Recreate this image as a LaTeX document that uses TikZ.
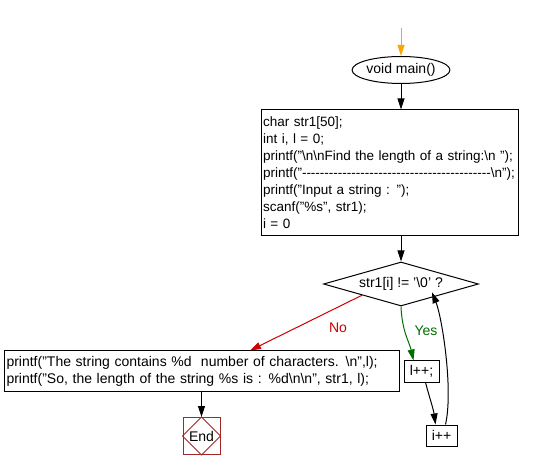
\documentclass[tikz,border=0pt]{standalone}
\usepackage{fontspec}
\setmainfont{Liberation Sans}
\usetikzlibrary{arrows.meta,shapes.geometric}

\definecolor{startorange}{RGB}{255,165,0}
\definecolor{nored}{RGB}{204,0,0}
\definecolor{yesgreen}{RGB}{0,110,0}
\definecolor{enddred}{RGB}{160,40,40}

\tikzset{
  codebox/.style={draw, rectangle, inner sep=2pt, align=left, anchor=center},
  stepbox/.style={draw, rectangle, inner sep=0pt, minimum height=21pt},
}

\begin{document}
\begin{tikzpicture}[x=1pt, y=-1pt, line width=1pt,
  font=\fontsize{14}{17}\selectfont,
  >={Triangle[length=11pt,width=7pt]}]

\useasboundingbox (0,0) rectangle (541,470);

\coordinate (top) at (401,28);
\node[draw, ellipse, minimum width=92pt, minimum height=27pt, inner sep=0pt] (main) at (401,70) {void main()};

\node[codebox, minimum width=257pt, minimum height=126pt, text width=253pt,
  font=\fontsize{13.5}{17}\selectfont] (init) at (389.5,173)
  {char str1[50];\\
   int i, l = 0;\\
   \mbox{printf("\textbackslash n\textbackslash nFind the length of a string:\textbackslash n ");}\\
   printf("{-}{-}{-}{-}{-}{-}{-}{-}{-}{-}{-}{-}{-}{-}{-}{-}{-}{-}{-}{-}{-}{-}{-}{-}{-}{-}{-}{-}{-}{-}{-}{-}{-}{-}{-}{-}{-}{-}{-}{-}{-}{-}\textbackslash n");\\
   printf("Input a string : ");\\
   scanf("\%s", str1);\\
   i = 0};

\node[draw, diamond, aspect=3.5, minimum width=155pt, minimum height=44pt, inner sep=0pt] (cond) at (401,284)
  {str1[i] != '\textbackslash 0' ?};

\node[codebox, minimum width=395pt, minimum height=40pt, text width=391pt] (out) at (202,371)
  {printf("The string contains \%d~ number of characters. \textbackslash n",l);\\
   printf("So, the length of the string \%s is : \%d\textbackslash n\textbackslash n", str1, l);};

\node[draw=enddred, rectangle, minimum width=37pt, minimum height=37pt, inner sep=0pt] (end) at (201.5,436) {End};
\draw[enddred] (end.north) -- (end.east) -- (end.south) -- (end.west) -- cycle;

\node[stepbox, minimum width=35pt] (inc) at (421.5,371.5) {l++;};
\node[stepbox, minimum width=31pt] (loop) at (441.5,435.5) {i++};

% connectors
\draw[->, startorange] (top) -- (main.north);
\draw[->] (main.south) -- (main.south |- init.north);
\draw[->] (init.south -| cond.north) -- (cond.north);
\draw[->, nored] (cond.south west) -- (out.north -| 250,0) node[pos=0.4, below right=2pt, xshift=6pt] {No};
\draw[->, yesgreen] (cond.south) .. controls +(1,25) and +(-4,-18) .. ([xshift=-8pt]inc.north)
  node[pos=0.4, right=6pt] {Yes};
\draw[->] ([xshift=4pt]inc.south) .. controls +(4,15) and +(-2,-15) .. ([xshift=-6pt]loop.north);
\draw[->] ([xshift=4pt]loop.north) .. controls +(8,-35) and +(10,25) .. ([xshift=-8pt, yshift=3pt]cond.south east);
\draw[->] (out.south -| end.north) -- (end.north);

\end{tikzpicture}
\end{document}
